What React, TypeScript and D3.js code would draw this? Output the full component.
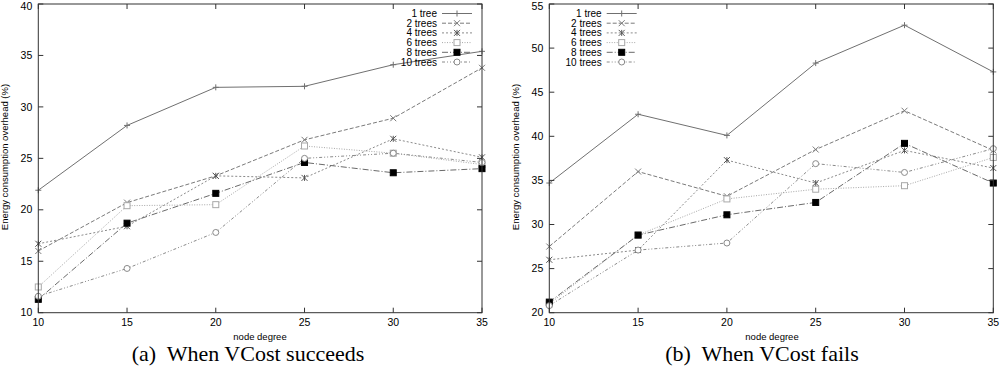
import React from 'react';
import * as d3 from 'd3';

// node degree on the x axis
const degrees = [10, 15, 20, 25, 30, 35];
const seriesNames = ['1 tree', '2 trees', '4 trees', '6 trees', '8 trees', '10 trees'];

// (a) When VCost succeeds
const succ1 = [21.9, 28.2, 31.9, 32.0, 34.1, 35.4];
const succ2 = [16.0, 20.7, 23.3, 26.8, 28.9, 33.8];
const succ4 = [16.7, 18.4, 23.3, 23.1, 26.9, 25.1];
const succ6 = [12.5, 20.4, 20.5, 26.2, 25.5, 24.4];
const succ8 = [11.3, 18.7, 21.6, 24.6, 23.6, 24.0];
const succ10 = [11.6, 14.3, 17.8, 25.0, 25.5, 24.6];

// (b) When VCost fails
const fail1 = [34.7, 42.5, 40.1, 48.3, 52.6, 47.3];
const fail2 = [27.5, 36.0, 33.2, 38.5, 42.9, 38.4];
const fail4 = [26.0, 27.1, 37.3, 34.7, 38.4, 36.4];
const fail6 = [21.0, 28.8, 32.9, 34.0, 34.4, 37.6];
const fail8 = [21.2, 28.8, 31.1, 32.5, 39.2, 34.7];
const fail10 = [20.8, 27.1, 27.9, 36.9, 35.9, 38.6];

const succTicks = [10, 15, 20, 25, 30, 35, 40];
const failTicks = [20, 25, 30, 35, 40, 45, 50, 55];

// line look per series (gnuplot monochrome)
const styles = [
  { color: '#707070', dash: '', mark: 'plus' },
  { color: '#7a7a7a', dash: '4,2', mark: 'cross' },
  { color: '#8a8a8a', dash: '2,2', mark: 'star' },
  { color: '#a8a8a8', dash: '1,1.5', mark: 'box' },
  { color: '#6a6a6a', dash: '6,2,1,2', mark: 'fbox' },
  { color: '#8a8a8a', dash: '3,2,1,2,1,2', mark: 'circle' },
];

const FONT = 'Liberation Sans, Arial, sans-serif';

function Marker({ kind, x, y, color }: { kind: string; x: number; y: number; color: string }) {
  const s = 3;
  if (kind === 'plus')
    return <path d={`M${x - s},${y}H${x + s}M${x},${y - s}V${y + s}`} stroke={color} strokeWidth={1} />;
  if (kind === 'cross')
    return <path d={`M${x - s},${y - s}L${x + s},${y + s}M${x - s},${y + s}L${x + s},${y - s}`} stroke={color} strokeWidth={1} />;
  if (kind === 'star')
    return <path d={`M${x - s},${y - s}L${x + s},${y + s}M${x - s},${y + s}L${x + s},${y - s}M${x},${y - s}V${y + s}`} stroke="#555" strokeWidth={1} />;
  if (kind === 'box')
    return <rect x={x - 3} y={y - 3} width={6} height={6} fill="white" stroke={color} strokeWidth={1} />;
  if (kind === 'fbox')
    return <rect x={x - 3} y={y - 3} width={6} height={6} fill="#000" stroke="#000" />;
  return <circle cx={x} cy={y} r={3} fill="white" stroke={color} strokeWidth={1} />;
}

type PanelProps = {
  left: number;
  right: number;
  ticks: number[];
  series: number[][];
  legendRight: number;
  ylabelX: number;
  xlabelX: number;
  caption: string;
  captionX: number;
};

function Panel({ left, right, ticks, series, legendRight, ylabelX, xlabelX, caption, captionX }: PanelProps) {
  const top = 4;
  const bottom = 312.7;
  const x = d3.scaleLinear().domain([10, 35]).range([left, right]);
  const y = d3.scaleLinear().domain([ticks[0], ticks[ticks.length - 1]]).range([bottom, top]);
  const line = d3.line<number>().x((_, i) => x(degrees[i])).y((v) => y(v));
  const tk = 5;

  return (
    <g fontFamily={FONT}>
      {series.map((vals, si) => (
        <path key={'l' + si} d={line(vals) || ''} fill="none" stroke={styles[si].color}
          strokeWidth={1} strokeDasharray={styles[si].dash} />
      ))}
      {series.map((vals, si) =>
        vals.map((v, i) => (
          <Marker key={`m${si}-${i}`} kind={styles[si].mark} x={x(degrees[i])} y={y(v)} color={styles[si].color} />
        ))
      )}
      {/* legend */}
      {seriesNames.map((name, si) => {
        const ly = 13.5 + si * 9.7;
        return (
          <g key={'lg' + si}>
            <text x={legendRight} y={ly} dy="0.35em" textAnchor="end" fontSize={10} fill="#000">{name}</text>
            <line x1={legendRight + 5} x2={legendRight + 35} y1={ly} y2={ly} stroke={styles[si].color}
              strokeDasharray={styles[si].dash} />
            <Marker kind={styles[si].mark} x={legendRight + 20} y={ly} color={styles[si].color} />
          </g>
        );
      })}
      {/* frame */}
      <rect x={left} y={top} width={right - left} height={bottom - top} fill="none" stroke="#333" strokeWidth={1} />
      {ticks.map((t) => (
        <g key={'yt' + t}>
          <line x1={left} x2={left + tk} y1={y(t)} y2={y(t)} stroke="#333" />
          <line x1={right} x2={right - tk} y1={y(t)} y2={y(t)} stroke="#333" />
          <text x={left - 6} y={Math.max(y(t), 6)} dy="0.35em" textAnchor="end" fontSize={10.5}>{t}</text>
        </g>
      ))}
      {degrees.map((d) => (
        <g key={'xt' + d}>
          <line x1={x(d)} x2={x(d)} y1={bottom} y2={bottom - tk} stroke="#333" />
          <line x1={x(d)} x2={x(d)} y1={top} y2={top + tk} stroke="#333" />
          <text x={x(d)} y={322} dy="0.35em" textAnchor="middle" fontSize={10.5}>{d}</text>
        </g>
      ))}
      <text transform={`translate(${ylabelX},157) rotate(-90)`} textAnchor="middle" dy="0.35em" fontSize={9.5}>
        Energy consumption overhead (%)
      </text>
      <text x={xlabelX} y={336.5} dy="0.35em" textAnchor="middle" fontSize={9.5}>node degree</text>
      <text x={captionX} y={360.5} textAnchor="middle" fontFamily="Liberation Serif, Times New Roman, serif"
        fontSize={22} style={{ whiteSpace: 'pre' }}>
        {caption}
      </text>
    </g>
  );
}

export default function App() {
  return (
    <svg width={1000} height={366} style={{ position: 'absolute', left: 0, top: 0, background: '#fff' }}>
      <Panel left={38.3} right={482} ticks={succTicks}
        series={[succ1, succ2, succ4, succ6, succ8, succ10]}
        legendRight={437} ylabelX={5} xlabelX={260}
        caption="(a)  When VCost succeeds" captionX={248} />
      <Panel left={549.3} right={993.3} ticks={failTicks}
        series={[fail1, fail2, fail4, fail6, fail8, fail10]}
        legendRight={601.7} ylabelX={515.5} xlabelX={772}
        caption="(b)  When VCost fails" captionX={762} />
    </svg>
  );
}
